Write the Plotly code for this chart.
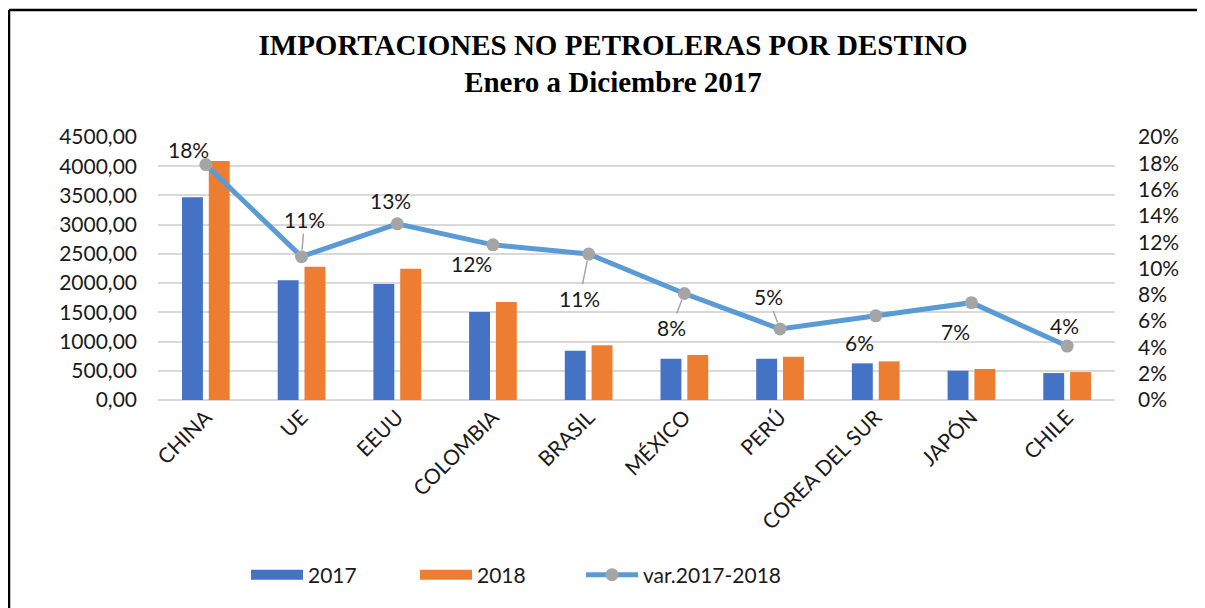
import plotly.graph_objects as go

# ---- data ----
categories = ["CHINA", "UE", "EEUU", "COLOMBIA", "BRASIL", "MÉXICO", "PERÚ",
              "COREA DEL SUR", "JAPÓN", "CHILE"]
values_2017 = [3470, 2050, 1985, 1505, 843, 706, 706, 627, 501, 461]
values_2018 = [4090, 2278, 2245, 1675, 935, 769, 740, 661, 530, 478]
variation = [0.179, 0.109, 0.134, 0.118, 0.111, 0.081, 0.054, 0.064, 0.074, 0.041]

# ---- label placement (pixel offsets of the data labels; style only) ----
label_dx = [-17, 3, -7, -21, -9, -13, -12, -16, -16, -3]
label_dy = [-15, -37, -23, 19, 44, 34, -32, 27, 29, -21]   # screen px, + is down
label_leader = [False, True, False, False, True, True, True, False, False, False]

W, H = 1205, 608
OFF = 8  # page body margin of the html page
ML, MR, MT, MB = 158 - OFF, 98, 137 - OFF, 216
PW, PH = W - ML - MR, H - MT - MB

FONT = "Lato"
TXT = "#1a1a1a"
FS = 21

fig = go.Figure()
fig.add_trace(go.Bar(x=categories, y=values_2017, name="2017", showlegend=False,
                     legendgroup="2017", marker=dict(color="#4472c4", line=dict(width=0))))
fig.add_trace(go.Bar(x=categories, y=values_2018, name="2018", showlegend=False,
                     legendgroup="2018", marker=dict(color="#ed7d31", line=dict(width=0))))
# legend entries shaped like the reference (wide colour bands)
fig.add_trace(go.Scatter(x=[None], y=[None], name="2017", legendgroup="2017",
                         mode="lines", line=dict(color="#4472c4", width=14)))
fig.add_trace(go.Scatter(x=[None], y=[None], name="2018", legendgroup="2018",
                         mode="lines", line=dict(color="#ed7d31", width=14)))
fig.add_trace(go.Scatter(x=categories, y=variation, name="var.2017-2018", yaxis="y2",
                         mode="lines+markers", legend="legend2",
                         line=dict(color="#5b9bd5", width=5),
                         marker=dict(color="#a5a5a5", size=13, line=dict(width=0))))

annotations = []
for c, v, dx, dy, lead in zip(categories, variation, label_dx, label_dy, label_leader):
    txt = f"{round(v * 100):d}%"
    if lead:
        annotations.append(dict(x=c, y=v, xref="x", yref="y2", text=txt,
                                showarrow=True, ax=dx, ay=dy, arrowhead=0,
                                arrowwidth=1.5, arrowcolor="#a5a5a5", standoff=7,
                                font=dict(family=FONT, size=FS, color=TXT)))
    else:
        annotations.append(dict(x=c, y=v, xref="x", yref="y2", text=txt,
                                showarrow=False, xshift=dx, yshift=-dy,
                                font=dict(family=FONT, size=FS, color=TXT)))

def px_x(p):  # page px -> paper
    return (p - OFF - ML) / PW

def px_y(p):
    return (H - MB - (p - OFF)) / PH

shapes = [
    dict(type="line", xref="paper", yref="paper", x0=px_x(9), x1=px_x(W + 20),
         y0=px_y(10), y1=px_y(10), line=dict(color="black", width=2.5)),
    dict(type="line", xref="paper", yref="paper", x0=px_x(9), x1=px_x(9),
         y0=px_y(10), y1=px_y(H + 20), line=dict(color="black", width=2.5)),
]

legend_common = dict(orientation="h", xanchor="left", yanchor="middle", itemwidth=52,
                     font=dict(family=FONT, size=FS, color=TXT), traceorder="normal",
                     bgcolor="rgba(0,0,0,0)")

fig.update_layout(
    width=W, height=H,
    margin=dict(l=ML, r=MR, t=MT, b=MB, autoexpand=False),
    paper_bgcolor="white", plot_bgcolor="white",
    separators=",.",
    barmode="group", bargap=0.44, bargroupgap=0.22,
    title=dict(text="IMPORTACIONES NO PETROLERAS POR DESTINO<br>Enero a Diciembre 2017",
               x=(613 - OFF) / W, xanchor="center", y=1 - (54.5 - OFF) / H, yanchor="middle",
               font=dict(family="Liberation Serif", size=29, color="black", weight="bold")),
    font=dict(family=FONT, size=FS, color=TXT),
    xaxis=dict(tickangle=-45, tickfont=dict(family=FONT, size=FS, color=TXT),
               showgrid=False, showline=False, ticks="", automargin=False,
               range=[-0.5, len(categories) - 0.5]),
    yaxis=dict(range=[0, 4500], dtick=500, tickformat=".2f", automargin=False,
               showgrid=True, gridcolor="#d9d9d9", gridwidth=1.5,
               zeroline=True, zerolinecolor="#d9d9d9", zerolinewidth=1.5,
               showline=False, ticks="", ticklabelstandoff=20,
               tickfont=dict(family=FONT, size=FS, color=TXT)),
    yaxis2=dict(range=[0, 0.2], dtick=0.02, tickformat=".0%", overlaying="y",
                side="right", showgrid=False, zeroline=False, showline=False,
                ticks="", ticklabelstandoff=22, automargin=False,
                tickfont=dict(family=FONT, size=FS, color=TXT)),
    legend=dict(x=px_x(246), y=px_y(575), entrywidth=102, entrywidthmode="pixels",
                **legend_common),
    legend2=dict(x=px_x(581), y=px_y(575), **legend_common),
    annotations=annotations,
    shapes=shapes,
)

fig.write_html("out.html")
